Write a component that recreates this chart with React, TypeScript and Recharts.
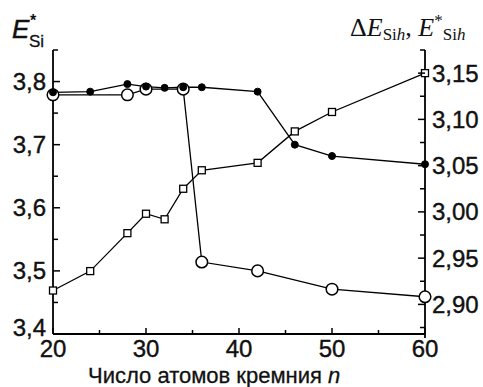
import { Line, LineChart, XAxis, YAxis } from "recharts";

// число атомов кремния n
const atoms = [20, 24, 28, 30, 32, 34, 36, 42, 46, 50, 60];
// E*Si, filled circles (left axis)
const eSiFilled = [3.783, 3.784, 3.796, 3.792, 3.79, 3.791, 3.791, 3.784, 3.7, 3.682, 3.669];
// open circles (left axis), gaps where no point was drawn
const eSiOpen = [3.779, null, 3.779, 3.788, null, 3.788, 3.514, 3.5, null, 3.471, 3.459];
// ΔE_Sih, squares (right axis)
const deltaSih = [2.915, 2.936, 2.977, 2.998, 2.992, 3.025, 3.045, 3.053, 3.087, 3.108, 3.15];

const xTicks = [20, 25, 30, 35, 40, 45, 50, 55, 60];
const leftTicks = [3.4, 3.45, 3.5, 3.55, 3.6, 3.65, 3.7, 3.75, 3.8, 3.85];
const rightTicks = [2.875, 2.9, 2.925, 2.95, 2.975, 3.0, 3.025, 3.05, 3.075, 3.1, 3.125, 3.15, 3.175];

const data = atoms.map((n, i) => ({
  n,
  filled: eSiFilled[i],
  open: eSiOpen[i],
  square: deltaSih[i],
}));

const SANS = "'Liberation Sans', Arial, Helvetica, sans-serif";
const SERIF = "'Liberation Serif', 'Times New Roman', serif";
const INK = "#111";

const isStep = (v: number, k: number) => Math.abs(v * k - Math.round(v * k)) < 1e-6;

function LeftTick({ x, y, payload }: any) {
  const v = payload.value as number;
  const major = isStep(v, 10);
  return (
    <g>
      <line x1={x} x2={x + (major ? 7 : 5)} y1={y} y2={y} stroke="#000" strokeWidth={1.5} />
      {major && (
        <text
          x={x - 7}
          y={y}
          dy={v === 3.4 ? 2 : 8.5}
          textAnchor="end"
          fontSize={24}
          fontFamily={SANS}
          fill={INK}
          stroke={INK}
          strokeWidth={0.4}
        >
          {v.toFixed(1).replace(".", ",")}
        </text>
      )}
    </g>
  );
}

function RightTick({ x, y, payload }: any) {
  const v = payload.value as number;
  const major = isStep(v, 20);
  return (
    <g>
      <line x1={x} x2={x - (major ? 7 : 5)} y1={y} y2={y} stroke="#000" strokeWidth={1.5} />
      {major && (
        <text
          x={x + 7}
          y={y}
          dy={8.5}
          textAnchor="start"
          fontSize={24}
          fontFamily={SANS}
          fill={INK}
          stroke={INK}
          strokeWidth={0.4}
        >
          {v.toFixed(2).replace(".", ",")}
        </text>
      )}
    </g>
  );
}

function BottomTick({ x, y, payload }: any) {
  const v = payload.value as number;
  const major = v % 10 === 0;
  return (
    <g>
      <line x1={x} x2={x} y1={y} y2={y - (major ? 6 : 4)} stroke="#000" strokeWidth={1.5} />
      {v === 60 && <line x1={x} x2={x} y1={y} y2={y + 4} stroke="#000" strokeWidth={1.8} />}
      {major && (
        <text
          x={x}
          y={y + 23}
          textAnchor="middle"
          fontSize={24}
          fontFamily={SANS}
          fill={INK}
          stroke={INK}
          strokeWidth={0.4}
        >
          {v}
        </text>
      )}
    </g>
  );
}

function SquareDot({ cx, cy }: any) {
  if (cx == null || cy == null) return null;
  return <rect x={cx - 3.5} y={cy - 3.5} width={7} height={7} fill="#fff" stroke="#000" strokeWidth={1.3} />;
}

export default function App() {
  return (
    <div style={{ position: "absolute", left: 0, top: 0, width: 483, height: 387, background: "#fff" }}>
      <LineChart width={483} height={387} data={data} margin={{ top: 50, right: 0, bottom: 0, left: 0 }}>
        <XAxis
          dataKey="n"
          type="number"
          domain={[20, 60]}
          ticks={xTicks}
          height={53}
          tickSize={0}
          tickMargin={0}
          tickLine={false}
          tick={(p: any) => <BottomTick {...p} />}
          axisLine={{ stroke: "#000", strokeWidth: 1.8 }}
          interval={0}
        />
        <YAxis
          yAxisId="left"
          orientation="left"
          domain={[3.4, 3.85]}
          ticks={leftTicks}
          width={53}
          tickSize={0}
          tickMargin={0}
          tickLine={false}
          tick={(p: any) => <LeftTick {...p} />}
          axisLine={{ stroke: "#000", strokeWidth: 1.8 }}
          interval={0}
          allowDataOverflow
        />
        <YAxis
          yAxisId="right"
          orientation="right"
          domain={[2.868, 3.175]}
          ticks={rightTicks}
          width={58}
          tickSize={0}
          tickMargin={0}
          tickLine={false}
          tick={(p: any) => <RightTick {...p} />}
          axisLine={{ stroke: "#000", strokeWidth: 1.8 }}
          interval={0}
          allowDataOverflow
        />
        <Line
          yAxisId="right"
          dataKey="square"
          stroke="#000"
          strokeWidth={1.3}
          dot={(p: any) => <SquareDot key={`sq-${p.index}`} {...p} />}
          isAnimationActive={false}
        />
        <Line
          yAxisId="left"
          dataKey="open"
          stroke="#000"
          strokeWidth={1.3}
          connectNulls
          dot={{ r: 5.8, fill: "#fff", stroke: "#000", strokeWidth: 1.5 }}
          isAnimationActive={false}
        />
        <Line
          yAxisId="left"
          dataKey="filled"
          stroke="#000"
          strokeWidth={1.3}
          dot={{ r: 3.5, fill: "#000", stroke: "#000", strokeWidth: 1 }}
          isAnimationActive={false}
        />
      </LineChart>
      <svg width={483} height={387} style={{ position: "absolute", left: 0, top: 0, pointerEvents: "none" }}>
        <text x={12} y={38} fontSize={26} fontFamily={SANS} fontStyle="italic" fill={INK} stroke={INK} strokeWidth={0.5}>
          E
        </text>
        <text x={30} y={26} fontSize={16} fontFamily={SANS} fontWeight="bold" fill={INK}>
          *
        </text>
        <text x={29} y={47} fontSize={17} fontFamily={SANS} fill={INK} stroke={INK} strokeWidth={0.3}>
          Si
        </text>
        <text x={350} y={36} fontSize={26} fontFamily={SERIF} fill={INK}>
          Δ<tspan fontStyle="italic">E</tspan>
          <tspan fontSize={17} dy={4}>
            Si<tspan fontStyle="italic">h</tspan>
          </tspan>
          <tspan dy={-4}>, </tspan>
          <tspan fontStyle="italic">E</tspan>
          <tspan fontSize={17} dy={-10}>
            *
          </tspan>
          <tspan fontSize={17} dy={14}>
            Si<tspan fontStyle="italic">h</tspan>
          </tspan>
        </text>
        <text x={88} y={383} fontSize={22} fontFamily={SANS} fill={INK} stroke={INK} strokeWidth={0.3}>
          Число атомов кремния <tspan fontStyle="italic">n</tspan>
        </text>
      </svg>
    </div>
  );
}
